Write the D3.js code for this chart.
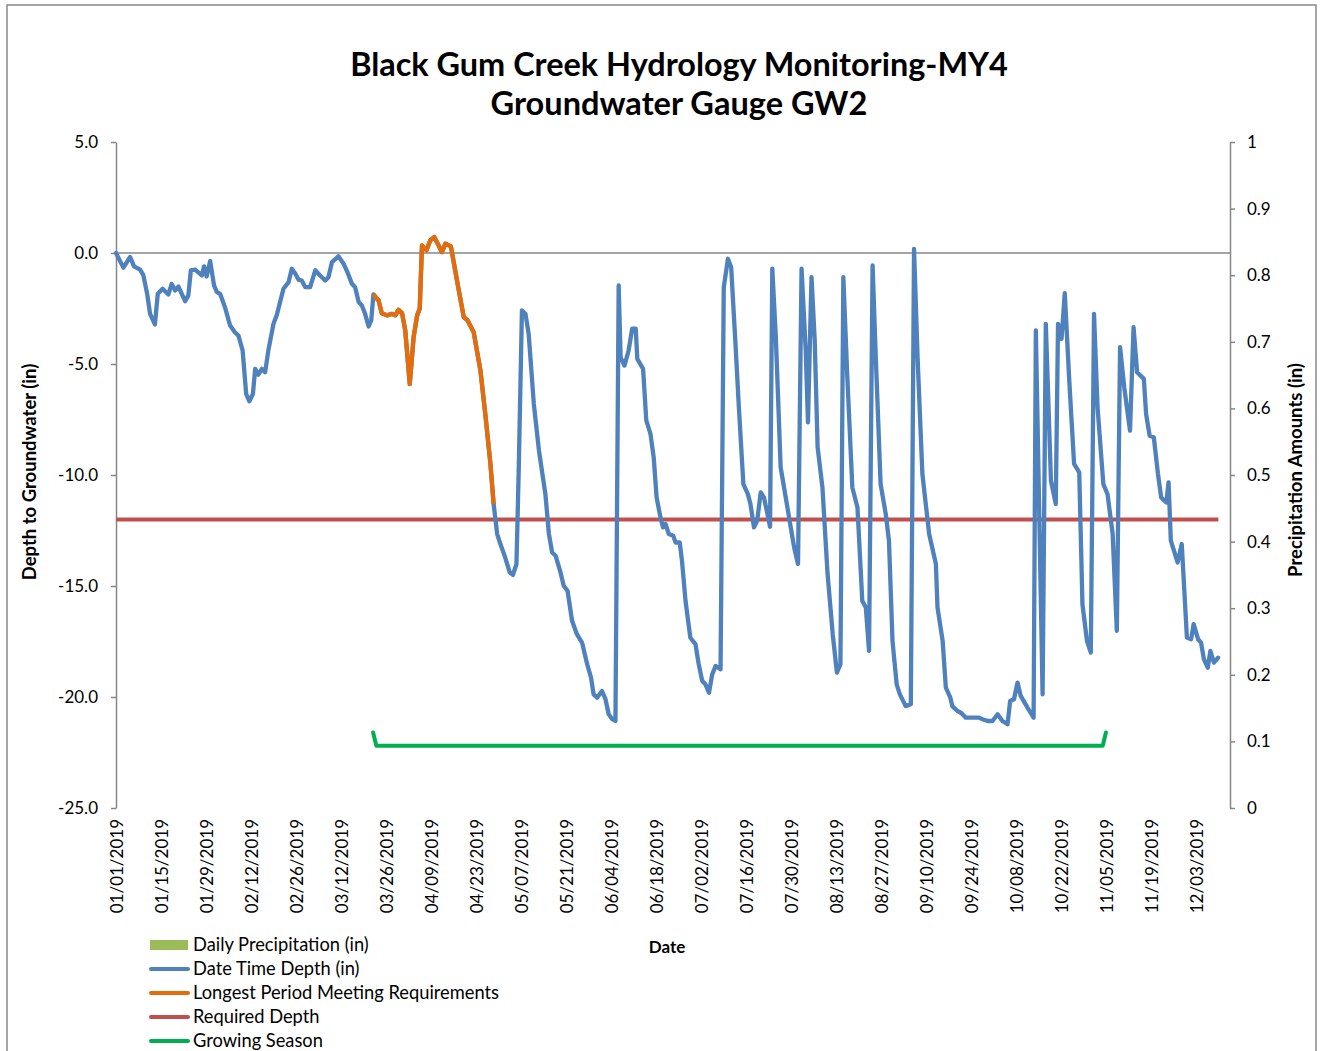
<!DOCTYPE html>
<html>
<head>
<meta charset="utf-8">
<script src="https://cdn.jsdelivr.net/npm/d3@7/dist/d3.min.js"></script>
<style>
  html, body { margin: 0; padding: 0; background: #fff; }
  svg { display: block; }
  text { font-family: Lato, "Open Sans", sans-serif; fill: #000; }
</style>
</head>
<body>
<svg id="chart" width="1320" height="1051"></svg>
<script>
// ---------------- DATA ----------------
const titleLines = ["Black Gum Creek Hydrology Monitoring-MY4", "Groundwater Gauge GW2"];
const xTickLabels = ["01/01/2019","01/15/2019","01/29/2019","02/12/2019","02/26/2019","03/12/2019",
  "03/26/2019","04/09/2019","04/23/2019","05/07/2019","05/21/2019","06/04/2019","06/18/2019",
  "07/02/2019","07/16/2019","07/30/2019","08/13/2019","08/27/2019","09/10/2019","09/24/2019",
  "10/08/2019","10/22/2019","11/05/2019","11/19/2019","12/03/2019"];
const leftTickValues = [5, 0, -5, -10, -15, -20, -25];
const leftTickLabels = ["5.0", "0.0", "-5.0", "-10.0", "-15.0", "-20.0", "-25.0"];
const rightTickValues = [0, 0.1, 0.2, 0.3, 0.4, 0.5, 0.6, 0.7, 0.8, 0.9, 1];
const rightTickLabels = ["0", "0.1", "0.2", "0.3", "0.4", "0.5", "0.6", "0.7", "0.8", "0.9", "1"];

// Date Time Depth (in): readings, time in days since 01/01/2019 (sub-daily readings)
const depthDay = [0,2.3,4.4,5.6,7.5,8.5,9.7,10.6,12.1,13.0,14.5,16.3,17.3,18.4,19.4,21.5,22.5,23.3,24.6,26.7,
  27.4,28.2,29.3,30.5,31.4,32.4,33.9,35.5,37.0,38.1,39.4,40.5,41.5,42.6,43.3,44.3,45.4,46.4,47.4,49.0,
  50.0,52.1,53.7,54.7,55.8,56.8,57.8,58.9,60.4,62.0,63.5,65.1,66.1,67.2,69.2,70.8,72.0,73.4,74.4,75.5,
  76.5,77.5,78.6,79.4,80.1,81.7,82.7,84.3,85.9,86.9,87.9,89.0,90.0,91.4,92.6,93.7,94.5,95.2,96.6,97.8,
  99.0,100.4,101.4,102.5,104.2,106.1,108.2,109.4,111.3,113.4,114.9,116.5,117.5,118.6,119.6,121.1,122.5,123.5,124.6,125.3,
  126.3,127.4,128.4,130.0,131.6,133.6,134.7,135.7,136.8,138.3,139.3,140.5,141.9,143.4,145.0,146.6,147.8,148.6,149.7,151.2,
  152.3,153.3,154.4,155.4,156.4,157.0,158.2,159.5,160.6,161.7,162.2,164.0,165.0,166.3,167.3,168.2,169.4,170.2,171.0,172.0,
  173.4,174.1,175.4,176.1,177.2,178.7,180.3,181.3,182.4,183.4,184.5,185.5,186.6,188.1,189.1,190.4,191.4,192.8,193.8,195.2,
  196.6,197.4,198.5,199.5,200.6,201.6,202.7,203.5,204.2,205.3,206.8,208.9,211.0,212.2,213.3,214.6,215.3,216.4,217.4,218.3,
  219.8,221.4,223.0,224.3,225.4,226.3,227.5,229.1,230.7,232.2,233.3,234.3,235.4,236.4,237.9,239.5,240.5,241.6,242.9,243.9,
  245.7,247.3,248.3,249.4,250.9,253.0,255.1,255.6,257.2,258.2,259.6,260.2,261.8,262.9,264.4,268.5,269.6,271.2,272.7,274.3,
  275.8,277.4,278.2,279.4,280.5,281.5,283.6,285.5,286.2,288.3,289.3,290.9,292.4,293.1,294.2,295.2,296.6,298.1,299.7,300.7,
  302.1,303.3,304.3,305.4,307.2,308.5,310.1,311.4,312.4,313.7,315.5,316.6,317.7,319.8,320.5,321.6,322.9,324.2,325.2,326.8,
  327.5,328.2,330.3,331.6,333.2,334.5,335.3,336.7,337.6,338.5,339.7,340.5,341.6,342.9];
const depthValue = [0.0,-0.66,-0.18,-0.6,-0.75,-1.0,-1.84,-2.74,-3.22,-1.84,-1.61,-1.87,-1.39,-1.69,-1.51,-2.17,-1.91,-0.78,-0.75,-1.01,
  -0.6,-1.06,-0.36,-1.46,-1.76,-1.84,-2.44,-3.27,-3.57,-3.72,-4.39,-6.35,-6.68,-6.35,-5.22,-5.48,-5.22,-5.37,-4.39,-3.19,
  -2.81,-1.61,-1.31,-0.71,-0.93,-1.2,-1.24,-1.54,-1.54,-0.78,-1.01,-1.24,-1.09,-0.41,-0.15,-0.48,-0.86,-1.39,-1.54,-2.21,
  -2.36,-2.74,-3.31,-3.04,-1.87,-2.14,-2.71,-2.81,-2.74,-2.81,-2.56,-2.71,-3.49,-5.9,-3.79,-2.81,-2.51,0.34,0.12,0.57,
  0.72,0.34,0.04,0.42,0.30,-1.24,-2.89,-3.04,-3.57,-5.3,-7.25,-9.5,-11.31,-12.66,-13.11,-13.72,-14.39,-14.5,-14.01,-9.8,
  -2.59,-2.74,-3.64,-6.8,-8.9,-10.86,-12.66,-13.49,-13.64,-14.39,-14.99,-15.22,-16.57,-17.17,-17.55,-18.52,-19.13,-19.88,-20.03,-19.73,
  -20.1,-20.78,-21.0,-21.08,-1.46,-4.7,-5.07,-4.39,-3.41,-3.41,-4.77,-5.22,-7.55,-8.15,-9.21,-11.01,-11.91,-12.36,-12.21,-12.66,
  -12.74,-13.04,-13.04,-13.87,-15.67,-17.33,-17.62,-18.52,-19.28,-19.43,-19.81,-18.98,-18.6,-18.75,-1.54,-0.26,-0.64,-4.24,-6.95,-10.41,
  -10.86,-11.31,-12.36,-12.06,-10.78,-11.01,-11.76,-12.33,-0.71,-3.79,-9.66,-11.46,-13.27,-14.01,-0.71,-4.39,-7.63,-1.09,-3.94,-8.75,
  -10.56,-14.46,-17.17,-18.9,-18.52,-1.09,-5.45,-10.56,-11.46,-15.67,-15.97,-17.92,-0.56,-4.7,-10.41,-11.76,-12.96,-17.47,-19.43,-19.88,
  -20.41,-20.33,0.19,-4.7,-9.96,-12.66,-14.01,-15.97,-17.47,-19.58,-20.03,-20.41,-20.63,-20.71,-20.93,-20.93,-21.0,-21.08,-21.08,-20.78,
  -21.08,-21.23,-20.18,-20.1,-19.35,-19.95,-20.48,-20.93,-3.49,-19.88,-3.19,-10.26,-11.31,-3.19,-3.87,-1.81,-5.75,-9.5,-9.88,-15.82,
  -17.47,-18.0,-2.74,-6.95,-10.41,-10.86,-12.66,-17.02,-4.24,-6.05,-8.0,-3.34,-5.37,-5.67,-7.25,-8.23,-8.3,-9.96,-11.01,-11.24,
  -10.33,-12.96,-13.94,-13.11,-17.32,-17.4,-16.72,-17.4,-17.55,-18.3,-18.68,-17.92,-18.45,-18.23];

// Longest Period Meeting Requirements (in)
const longestDay = [80.1,81.7,82.7,84.3,85.9,86.9,87.9,89.0,90.0,91.4,92.6,93.7,94.5,95.2,96.6,97.8,
  99.0,100.4,101.4,102.5,104.2,106.1,108.2,109.4,111.3,113.4,114.9,116.5,117.5];
const longestValue = [-1.87,-2.14,-2.71,-2.81,-2.74,-2.81,-2.56,-2.71,-3.49,-5.9,-3.79,-2.81,-2.51,0.34,0.12,0.57,
  0.72,0.34,0.04,0.42,0.30,-1.24,-2.89,-3.04,-3.57,-5.3,-7.25,-9.5,-11.31];

// Required Depth (in)
const requiredDates = ["2019-01-01", "2019-12-10"];
const requiredValue = [-12, -12];

// Growing Season
const growingDates = ["2019-03-22", "2019-03-23", "2019-11-04", "2019-11-05"];
const growingValue = [-21.6, -22.2, -22.2, -21.6];

// Daily Precipitation (in) — no precipitation bars visible in the chart
const precipDates = [];
const precipValue = [];

const legendItems = [
  {label: "Daily Precipitation (in)", color: "#9BBB59", type: "rect"},
  {label: "Date Time Depth (in)", color: "#4F81BD", type: "line"},
  {label: "Longest Period Meeting Requirements", color: "#E46C0A", type: "line"},
  {label: "Required Depth", color: "#C0504D", type: "line"},
  {label: "Growing Season", color: "#00B050", type: "line"}
];

// ---------------- DRAW ----------------
(function () {
const svg = d3.select("#chart");
const parse = d3.timeParse("%Y-%m-%d");
const parseTick = d3.timeParse("%m/%d/%Y");
const t0 = new Date(2019, 0, 1);
const fromDay = d => new Date(t0.getTime() + d * 86400000);

const pL = 116, pR = 1230, pT = 142, pB = 808;
const x = d3.scaleTime()
  .domain([t0, fromDay((pR - pL) / 3.214)])
  .range([pL, pR]);
const y = d3.scaleLinear().domain([-25, 5]).range([pB, pT]);
const y2 = d3.scaleLinear().domain([0, 1]).range([pB, pT]);

const axisColor = "#868686";

// outer border
svg.append("rect").attr("x", 7).attr("y", 5).attr("width", 1309).attr("height", 1060)
  .attr("fill", "none").attr("stroke", "#898989").attr("stroke-width", 1.5);

// title
titleLines.forEach((t, i) => {
  const target = i === 0 ? 658 : 377;
  const txt = svg.append("text").attr("x", 679).attr("y", i === 0 ? 76 : 115)
    .attr("text-anchor", "middle").attr("font-weight", "bold").attr("font-size", 30).text(t);
  const w = txt.node().getComputedTextLength();
  txt.attr("font-size", 30 * target / w);
});

// zero line (category axis)
svg.append("line").attr("x1", pL).attr("x2", pR).attr("y1", y(0)).attr("y2", y(0))
  .attr("stroke", axisColor).attr("stroke-width", 1.5);

// left axis
const gL = svg.append("g").attr("transform", `translate(${pL},0)`)
  .call(d3.axisLeft(y).tickValues(leftTickValues)
    .tickFormat((d, i) => leftTickLabels[i]).tickSize(5).tickPadding(13).tickSizeOuter(0));
gL.selectAll("path, line").attr("stroke", axisColor).attr("stroke-width", 1.5);
gL.selectAll("text").attr("font-size", 17).attr("font-family", "Lato").attr("fill", "#000");

// right axis
const gR = svg.append("g").attr("transform", `translate(${pR},0)`)
  .call(d3.axisRight(y2).tickValues(rightTickValues)
    .tickFormat((d, i) => rightTickLabels[i]).tickSize(5).tickPadding(12).tickSizeOuter(0));
gR.selectAll("path, line").attr("stroke", axisColor).attr("stroke-width", 1.5);
gR.selectAll("text").attr("font-size", 17).attr("font-family", "Lato").attr("fill", "#000");

// bottom (date) axis labels
const tickDates = xTickLabels.map(parseTick);
const gB = svg.append("g").attr("transform", `translate(0,${pB})`)
  .call(d3.axisBottom(x).tickValues(tickDates)
    .tickFormat((d, i) => xTickLabels[i]).tickSize(0).tickSizeOuter(0));
gB.select(".domain").remove();
gB.selectAll("text").attr("font-size", 17).attr("font-family", "Lato").attr("fill", "#000")
  .attr("transform", "rotate(-90)").attr("text-anchor", "end")
  .attr("x", -11).attr("y", 0).attr("dy", "0.36em");

// axis titles
svg.append("text").attr("transform", `translate(36,472) rotate(-90)`)
  .attr("text-anchor", "middle").attr("font-weight", "bold").attr("font-size", 18.5)
  .text("Depth to Groundwater (in)");
svg.append("text").attr("transform", `translate(1302,470) rotate(-90)`)
  .attr("text-anchor", "middle").attr("font-weight", "bold").attr("font-size", 18.5)
  .text("Precipitation Amounts (in)");
svg.append("text").attr("x", 667).attr("y", 953).attr("text-anchor", "middle")
  .attr("font-weight", "bold").attr("font-size", 17).text("Date");

// precipitation bars (secondary axis)
svg.append("g").selectAll("rect").data(precipDates.map((d, i) => ({d: parse(d), v: precipValue[i]})))
  .join("rect").attr("x", d => x(d.d) - 1.5).attr("width", 3)
  .attr("y", d => y2(d.v)).attr("height", d => y2(0) - y2(d.v)).attr("fill", "#9BBB59");

const line = d3.line().x(d => x(d.d)).y(d => y(d.v));

// required depth
svg.append("path").datum(requiredDates.map((d, i) => ({d: parse(d), v: requiredValue[i]})))
  .attr("d", line).attr("fill", "none").attr("stroke", "#C0504D").attr("stroke-width", 4);

// growing season
svg.append("path").datum(growingDates.map((d, i) => ({d: parse(d), v: growingValue[i]})))
  .attr("d", line).attr("fill", "none").attr("stroke", "#00B050").attr("stroke-width", 4)
  .attr("stroke-linejoin", "round").attr("stroke-linecap", "round");

// depth series
svg.append("path").datum(depthDay.map((d, i) => ({d: fromDay(d), v: depthValue[i]})))
  .attr("d", line).attr("fill", "none").attr("stroke", "#4F81BD").attr("stroke-width", 4.3)
  .attr("stroke-linejoin", "round").attr("stroke-linecap", "round");

// longest period
svg.append("path").datum(longestDay.map((d, i) => ({d: fromDay(d), v: longestValue[i]})))
  .attr("d", line).attr("fill", "none").attr("stroke", "#E46C0A").attr("stroke-width", 4.3)
  .attr("stroke-linejoin", "round").attr("stroke-linecap", "butt");

// legend
const lg = svg.append("g");
legendItems.forEach((it, i) => {
  const cy = 945 + i * 24;
  if (it.type === "rect") {
    lg.append("rect").attr("x", 150).attr("y", cy - 5).attr("width", 38).attr("height", 10).attr("fill", it.color);
  } else {
    lg.append("line").attr("x1", 151).attr("x2", 188).attr("y1", cy).attr("y2", cy)
      .attr("stroke", it.color).attr("stroke-width", 4).attr("stroke-linecap", "round");
  }
  lg.append("text").attr("x", 193).attr("y", cy).attr("dy", "0.35em").attr("font-size", 18.3).text(it.label);
});
})();
</script>
</body>
</html>
